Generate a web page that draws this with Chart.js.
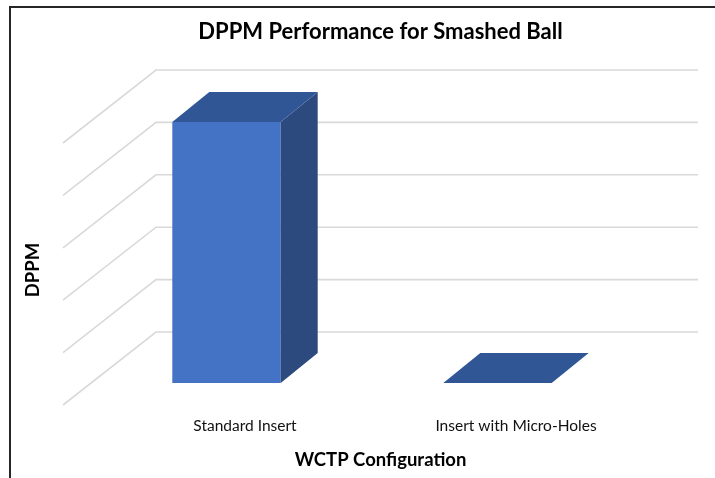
<!DOCTYPE html>
<html>
<head>
<meta charset="utf-8">
<script src="https://cdn.jsdelivr.net/npm/chart.js@4.4.1/dist/chart.umd.min.js"></script>
<style>
    html, body { margin: 0; padding: 0; background: #fff; overflow: hidden; }
    #frame { position: absolute; left: 9px; top: 6px; width: 720px; height: 480px;
             border-top: 2px solid #262626; border-left: 2px solid #262626; }
    #wrap { position: absolute; left: 0; top: 0; width: 715px; height: 478px; }
</style>
</head>
<body>
<div id="frame"></div>
<div id="wrap"><canvas id="dppmChart" width="715" height="478"></canvas></div>
<script>
// chart data
const chartTitle = 'DPPM Performance for Smashed Ball';
const categories = ['Standard Insert', 'Insert with Micro-Holes'];
const dppmValues = [2490, 0];
const yTitle = 'DPPM';
const xTitle = 'WCTP Configuration';
const yMax = 2500;
const yStep = 500;

// 3D look (pixel offsets)
const barDepth = { dx: 37, dy: -30 };     // front face -> back face of a bar
const backWall = { dx: 65, dy: -51 };     // front plane -> back wall
const frontEdge = { dx: -28, dy: 22 };    // front plane -> front edge of side wall

const FONT = "Lato, 'Open Sans', sans-serif";

const box3d = {
    id: 'box3d',
    beforeDatasetsDraw(chart) {
        const { ctx, chartArea: a, scales: { y } } = chart;
        ctx.save();
        ctx.strokeStyle = '#d9d9d9';
        ctx.lineWidth = 1.6;
        y.ticks.forEach(t => {
            const py = y.getPixelForValue(t.value);
            ctx.beginPath();
            ctx.moveTo(a.left + frontEdge.dx, py + frontEdge.dy);
            ctx.lineTo(a.left + backWall.dx, py + backWall.dy);
            ctx.lineTo(a.right + backWall.dx, py + backWall.dy);
            ctx.stroke();
        });
        ctx.restore();
    },
    afterDatasetsDraw(chart) {
        const { ctx } = chart;
        ctx.save();
        chart.getDatasetMeta(0).data.forEach(bar => {
            const { x, y, base, width } = bar.getProps(['x', 'y', 'base', 'width'], true);
            const l = x - width / 2, r = x + width / 2;
            // side face
            if (base - y > 0) {
                ctx.fillStyle = '#2c4a7e';
                ctx.beginPath();
                ctx.moveTo(r, y);
                ctx.lineTo(r + barDepth.dx, y + barDepth.dy);
                ctx.lineTo(r + barDepth.dx, base + barDepth.dy);
                ctx.lineTo(r, base);
                ctx.closePath();
                ctx.fill();
            }
            // top face
            ctx.fillStyle = '#305696';
            ctx.beginPath();
            ctx.moveTo(l, y);
            ctx.lineTo(l + barDepth.dx, y + barDepth.dy);
            ctx.lineTo(r + barDepth.dx, y + barDepth.dy);
            ctx.lineTo(r, y);
            ctx.closePath();
            ctx.fill();
        });
        ctx.restore();
    },
    afterDraw(chart) {
        const { ctx, chartArea: a, scales: { x } } = chart;
        const cx = (a.left + a.right) / 2 + barDepth.dx / 2;
        ctx.save();
        ctx.textAlign = 'center';
        ctx.textBaseline = 'middle';

        ctx.fillStyle = '#000';
        ctx.font = `bold 22px ${FONT}`;
        ctx.fillText(chartTitle, cx, 32);

        ctx.fillStyle = '#111';
        ctx.font = `15.5px ${FONT}`;
        categories.forEach((c, i) => {
            ctx.fillText(c, x.getPixelForTick(i) + barDepth.dx / 2, 426);
        });

        ctx.fillStyle = '#000';
        ctx.font = `bold 18.5px ${FONT}`;
        ctx.fillText(xTitle, cx, 460);

        ctx.translate(33, 270);
        ctx.rotate(-Math.PI / 2);
        ctx.fillText(yTitle, 0, 0);
        ctx.restore();
    }
};

new Chart(document.getElementById('dppmChart'), {
    type: 'bar',
    data: {
        labels: categories,
        datasets: [{
            label: 'DPPM',
            data: dppmValues,
            backgroundColor: '#4472c4',
            categoryPercentage: 1,
            barPercentage: 0.4
        }]
    },
    options: {
        responsive: false,
        animation: false,
        devicePixelRatio: 1,
        layout: { padding: { left: 91, right: 82, top: 121, bottom: 95 } },
        plugins: { legend: { display: false }, tooltip: { enabled: false } },
        scales: {
            x: { display: false },
            y: { display: false, min: 0, max: yMax, ticks: { stepSize: yStep } }
        }
    },
    plugins: [box3d]
});
</script>
</body>
</html>
